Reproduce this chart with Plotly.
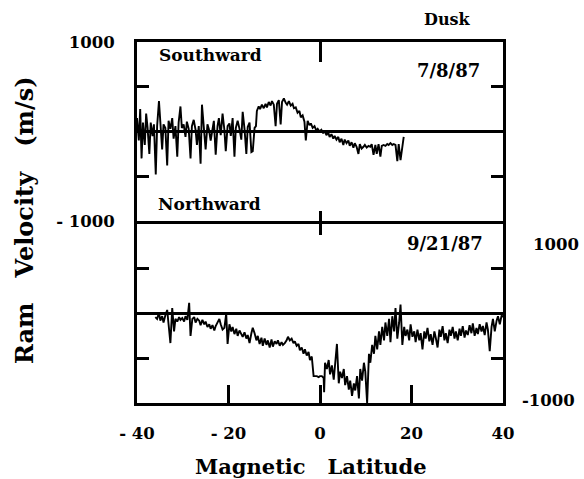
import plotly.graph_objects as go

# ---- data: 7/8/87 (Southward / top panel) ----
lat_s = [-40.0, -39.6, -39.3, -39.0, -38.7, -38.3, -38.0, -37.7, -37.3, -37.0,
         -36.6, -36.3, -35.9, -35.6, -35.2, -34.9, -34.5, -34.2, -33.8, -33.4,
         -33.1, -32.7, -32.3, -32.0, -31.6, -31.2, -30.9, -30.5, -30.2, -29.8,
         -29.4, -29.1, -28.7, -28.3, -28.0, -27.6, -27.2, -26.9, -26.5, -26.1,
         -25.8, -25.4, -25.0, -24.6, -24.3, -23.9, -23.5, -23.2, -22.8, -22.4,
         -22.1, -21.7, -21.3, -20.9, -20.6, -20.2, -19.8, -19.5, -19.1, -18.7,
         -18.4, -18.0, -17.6, -17.2, -16.9, -16.5, -16.1, -15.8, -15.4, -15.0,
         -14.7, -14.3, -14.0, -13.8, -13.4, -13.1, -12.7, -12.3, -11.9, -11.6,
         -11.2, -10.8, -10.5, -10.1, -9.7, -9.4, -9.0, -8.6, -8.3, -7.9,
         -7.5, -7.2, -6.8, -6.4, -6.0, -5.7, -5.3, -4.9, -4.5, -4.2,
         -3.8, -3.4, -3.1, -2.7, -2.3, -2.0, -1.6, -1.2, -0.8, -0.5,
         -0.1, 0.3, 0.7, 1.0, 1.4, 1.8, 2.1, 2.5, 2.9, 3.2,
         3.6, 4.0, 4.3, 4.7, 5.1, 5.4, 5.8, 6.2, 6.5, 6.9,
         7.3, 7.6, 8.0, 8.4, 8.7, 9.1, 9.5, 9.8, 10.2, 10.6,
         11.0, 11.3, 11.7, 12.1, 12.4, 12.8, 13.2, 13.5, 13.9, 14.3,
         14.7, 15.0, 15.4, 15.8, 16.1, 16.5, 16.9, 17.2, 17.6, 18.0,
         18.3]
vel_s = [150, -100, 250, -300, 100, -150, 200, 50, -250, 100,
         -50, 80, -480, 60, 340, 50, -200, 80, 40, -380,
         120, 30, 150, -80, 60, -280, 100, 280, 40, 80,
         -60, 110, 30, -300, 60, 130, 20, -150, 60, -360,
         300, 50, -200, 80, 30, -100, 40, 120, -260, 60,
         150, -40, 200, 20, -220, 60, 90, -50, 150, -280,
         40, 120, 30, -90, 220, 30, -250, 50, 100, -230,
         -220, 40, 60, 230, 280, 250, 300, 260, 310, 270,
         330, 290, 340, 300, 60, 310, 350, 80, 330, 370,
         320, 300, 340, 290, 310, 260, 270, 210, 230, 160,
         180, 110, -100, 120, 70, 90, 40, 60, 10, 30,
         0, 20, -20, 10, -40, -10, -60, -30, -80, -50,
         -90, -60, -120, -80, -150, -90, -130, -100, -160, -120,
         -180, -130, -170, -250, -140, -190, -170, -150, -180, -160,
         -170, -140, -260, -150, -250, -140, -280, -160, -150, -160,
         -140, -150, -130, -150, -140, -150, -330, -140, -320, -150,
         -60]

# ---- data: 9/21/87 (Northward / bottom panel) ----
lat_n = [-36.0, -35.6, -35.2, -34.9, -34.5, -34.2, -33.8, -33.4, -33.1, -32.7,
         -32.3, -31.9, -31.6, -31.2, -30.8, -30.5, -30.1, -29.7, -29.4, -29.0,
         -28.6, -28.3, -27.9, -27.5, -27.2, -26.8, -26.4, -26.1, -25.7, -25.3,
         -25.0, -24.6, -24.2, -23.9, -23.5, -23.1, -22.8, -22.4, -22.0, -21.7,
         -21.3, -20.9, -20.5, -20.2, -19.8, -19.4, -19.1, -18.7, -18.3, -18.0,
         -17.6, -17.2, -16.9, -16.5, -16.1, -15.8, -15.4, -15.0, -14.7, -14.3,
         -13.9, -13.6, -13.2, -12.8, -12.5, -12.1, -11.7, -11.4, -11.0, -10.6,
         -10.3, -9.9, -9.5, -9.2, -8.8, -8.4, -8.1, -7.7, -7.3, -7.0,
         -6.6, -6.2, -5.8, -5.5, -5.1, -4.7, -4.4, -4.0, -3.6, -3.3,
         -2.9, -2.5, -2.2, -1.8, -1.4, -1.1, -0.7, -0.3, 0.0, 0.4,
         0.8, 0.9, 1.1, 1.5, 1.9, 2.2, 2.6, 3.0, 3.3, 3.7,
         4.1, 4.4, 4.8, 5.2, 5.5, 5.9, 6.3, 6.6, 7.0, 7.4,
         7.7, 8.1, 8.5, 8.8, 9.2, 9.6, 9.9, 10.3, 10.7, 11.0,
         11.4, 11.8, 12.1, 12.5, 12.9, 13.2, 13.6, 14.0, 14.3, 14.7,
         15.1, 15.4, 15.8, 16.2, 16.5, 16.9, 17.3, 17.6, 18.0, 18.4,
         18.7, 19.1, 19.5, 19.8, 20.2, 20.6, 20.9, 21.3, 21.7, 22.0,
         22.4, 22.8, 23.1, 23.5, 23.9, 24.2, 24.6, 25.0, 25.3, 25.7,
         26.1, 26.4, 26.8, 27.2, 27.5, 27.9, 28.3, 28.6, 29.0, 29.4,
         29.7, 30.1, 30.5, 30.8, 31.2, 31.6, 31.9, 32.3, 32.7, 33.1,
         33.4, 33.8, 34.2, 34.5, 34.9, 35.3, 35.6, 36.0, 36.4, 36.7,
         37.1, 37.5, 37.8, 38.2, 38.6, 38.9, 39.3, 39.7, 40.0]
vel_n = [-40, -60, 10, -80, -30, -100, -20, 40, -120, -330,
         60, -200, -60, -90, -40, -70, -50, -90, -30, -70,
         120, -250, -60, -40, -100, -60, -80, -130, -70, -120,
         -90, -150, -120, -170, -130, -190, -140, -100, -60, -120,
         -180, -160, 0, -340, -120, -200, -150, -230, -170, -250,
         -190, -230, -260, -210, -280, -240, -330, -220, -160, -220,
         -300, -250, -340, -270, -360, -280, -350, -300, -380, -290,
         -370, -310, -340, -300, -360, -320, -350, -330, -300, -260,
         -300, -280, -330, -310, -360, -340, -410, -380, -450, -400,
         -470, -430, -520, -480, -700, -700, -700, -710, -700, -700,
         -720, -880, -550, -620, -520, -680, -580, -740, -600, -340,
         -780, -650, -720, -620, -800, -700, -850, -750, -920, -780,
         -860, -700, -950, -620, -750, -550, -650, -1000, -450, -550,
         -350, -450, -250, -400, -200, -350, -150, -300, -100, -250,
         -60, -320, -30, -200, 60, -280, -100, 100, -350, -150,
         -250, -180, -300, -120, -260, -200, -320, -180, -300, -220,
         -400, -200, -280, -160, -310, -230, -350, -200, -270, -380,
         -180, -260, -140, -300, -220, -330, -180, -250, -150, -280,
         -200, -300, -170, -250, -140, -270, -190, -240, -130, -220,
         -110, -250, -160, -230, -120, -200, -140, -240, -100, -180,
         -420, -150, -60, -200, -80, -30, -120, -20, -40]

x_ticks = [-40, -20, 0, 20, 40]
x_tick_text = ["- 40", "- 20", "0", "20", "40"]
y_ticks_top = [-1000, -500, 500, 1000]
y_tick_text_top = ["- 1000", "", "", "1000"]

FONT = "DejaVu Serif"
BLACK = "#000000"

fig = go.Figure()
fig.add_trace(go.Scatter(x=lat_s, y=vel_s, mode="lines", xaxis="x", yaxis="y",
                         line=dict(color=BLACK, width=1.9), showlegend=False))
fig.add_trace(go.Scatter(x=lat_n, y=vel_n, mode="lines", xaxis="x2", yaxis="y2",
                         line=dict(color=BLACK, width=1.9), showlegend=False))
# helper empty traces so overlay tick axes are drawn
fig.add_trace(go.Scatter(x=[], y=[], xaxis="x3", yaxis="y", showlegend=False))
fig.add_trace(go.Scatter(x=[], y=[], xaxis="x4", yaxis="y2", showlegend=False))

split = 0.504
gap = 3.0 / 361  # make the two panel borders overlap into one line
common_x = dict(range=[-40, 40], showgrid=False, zeroline=False,
                showline=True, linewidth=3, linecolor=BLACK,
                tickcolor=BLACK, tickwidth=2.5)
common_y = dict(range=[-1000, 1000], showgrid=False, zeroline=True,
                zerolinewidth=3, zerolinecolor=BLACK,
                showline=True, linewidth=3, linecolor=BLACK,
                ticks="inside", ticklen=12, tickcolor=BLACK, tickwidth=2.5,
                mirror="ticks")

fig.update_layout(
    width=584, height=479,
    margin=dict(l=137, r=81, t=42, b=76),
    paper_bgcolor="white", plot_bgcolor="white",
    font=dict(family=FONT, color=BLACK, size=16, weight="bold"),
    xaxis=dict(**common_x, anchor="y", side="top", ticks="inside", ticklen=20,
               tickvals=[0], showticklabels=False, mirror=True),
    xaxis3=dict(**common_x, anchor="y", overlaying="x", side="bottom",
                ticks="inside", ticklen=10, tickvals=[0], showticklabels=False),
    xaxis2=dict(**common_x, anchor="y2", side="bottom", ticks="inside", ticklen=18,
                tickvals=x_ticks, ticktext=x_tick_text, mirror=True,
                ticklabelstandoff=13,
                tickfont=dict(family=FONT, size=16.5, weight="bold")),
    xaxis4=dict(**common_x, anchor="y2", overlaying="x2", side="top",
                ticks="inside", ticklen=11, tickvals=[0], showticklabels=False),
    yaxis=dict(**common_y, domain=[split, 1], anchor="x",
               tickvals=y_ticks_top, ticktext=y_tick_text_top,
               ticklabelstandoff=16,
               tickfont=dict(family=FONT, size=16.5, weight="bold")),
    yaxis2=dict(**common_y, domain=[0, split - gap], anchor="x2",
                tickvals=[-500, 500], showticklabels=False),
)

def ann(text, x, y, size=17, **kw):
    fig.add_annotation(text=text, x=x, y=y, xref="paper", yref="paper",
                       showarrow=False, xanchor="center", yanchor="middle",
                       font=dict(family=FONT, size=size, color=BLACK, weight="bold"), **kw)

ann("Dusk", 0.847, 1.061, size=16)
ann("Southward", 0.202, 0.964)
ann("7/8/87", 0.852, 0.922, size=18)
ann("Northward", 0.199, 0.551)
ann("9/21/87", 0.842, 0.443, size=18)
ann("1000", 1.145, 0.438, size=16.5)
ann("-1000", 1.123, 0.008, size=16.5)
ann("Magnetic   Latitude", 0.475, -0.176, size=21)
ann("Ram   Velocity   (m/s)", -0.306, 0.507, size=24, textangle=-90)

fig.write_html("out.html")
